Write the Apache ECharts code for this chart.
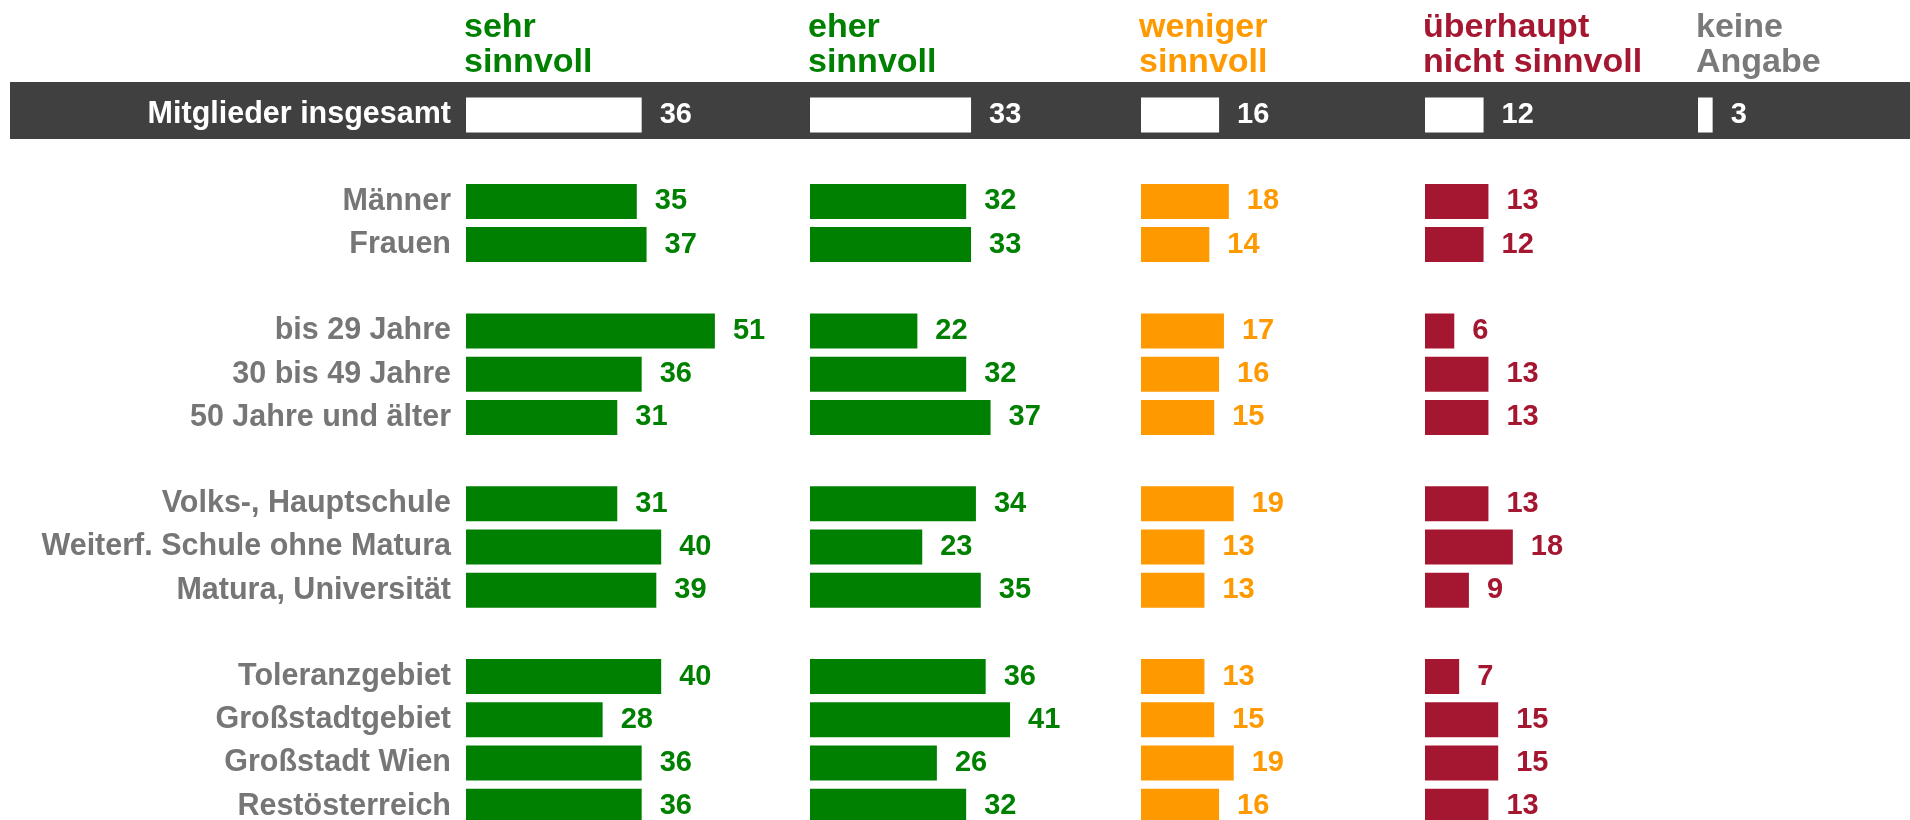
<!DOCTYPE html>
<html>
<head>
<meta charset="utf-8">
<script src="https://cdn.jsdelivr.net/npm/echarts@6/dist/echarts.min.js"></script>
<style>
  html, body { margin: 0; padding: 0; background: #fff; }
  #chart { width: 1910px; height: 820px; }
</style>
</head>
<body>
<div id="chart"></div>
<script>
// Zeilen (leere Zeilen trennen die Gruppen)
const categories = [
  'Mitglieder insgesamt', ' ',
  'Männer', 'Frauen', '  ',
  'bis 29 Jahre', '30 bis 49 Jahre', '50 Jahre und älter', '   ',
  'Volks-, Hauptschule', 'Weiterf. Schule ohne Matura', 'Matura, Universität', '    ',
  'Toleranzgebiet', 'Großstadtgebiet', 'Großstadt Wien', 'Restösterreich'
];
const sehrSinnvoll = [36, null, 35, 37, null, 51, 36, 31, null, 31, 40, 39, null, 40, 28, 36, 36];
const eherSinnvoll = [33, null, 32, 33, null, 22, 32, 37, null, 34, 23, 35, null, 36, 41, 26, 32];
const wenigerSinnvoll = [16, null, 18, 14, null, 17, 16, 15, null, 19, 13, 13, null, 13, 15, 19, 16];
const nichtSinnvoll = [12, null, 13, 12, null, 6, 13, 13, null, 13, 18, 9, null, 7, 15, 15, 13];
const keineAngabe = [3, null, null, null, null, null, null, null, null, null, null, null, null, null, null, null, null];
const headers = ['sehr\nsinnvoll', 'eher\nsinnvoll', 'weniger\nsinnvoll', 'überhaupt\nnicht sinnvoll', 'keine\nAngabe'];

const FONT = '"Liberation Sans", Arial, sans-serif';
const colors = ['#008000', '#008000', '#FF9900', '#A51731', '#7a7a7a'];
const colStart = [466, 810, 1141, 1425, 1698];
const columns = [sehrSinnvoll, eherSinnvoll, wenigerSinnvoll, nichtSinnvoll, keineAngabe];

const rowH = 43.2;
const gridTop = 115 - rowH / 2;
const AXIS_MAX = 60;
const pxPerUnit = 4.88;

const chart = echarts.init(document.getElementById('chart'));

const grids = [], xAxes = [], yAxes = [], series = [];
columns.forEach(function (vals, i) {
  grids.push({
    left: colStart[i],
    top: gridTop,
    width: AXIS_MAX * pxPerUnit,
    height: rowH * categories.length,
    outerBoundsMode: 'none',
    containLabel: false
  });
  xAxes.push({
    gridIndex: i, type: 'value', min: 0, max: AXIS_MAX,
    show: false, splitLine: { show: false }
  });
  yAxes.push({
    gridIndex: i, type: 'category', inverse: true,
    data: categories.map(function (c, k) {
      return k === 0 ? { value: c, textStyle: { color: '#ffffff' } } : c;
    }),
    axisLine: { show: false }, axisTick: { show: false },
    axisLabel: {
      show: i === 0, margin: 15, fontSize: 30.5, fontWeight: 'bold',
      fontFamily: FONT, color: '#767676'
    }
  });
  series.push({
    type: 'bar',
    xAxisIndex: i, yAxisIndex: i,
    barWidth: 35,
    clip: false,
    itemStyle: { color: colors[i] },
    label: {
      show: true, position: 'right', distance: 18,
      fontSize: 29, fontWeight: 'bold', fontFamily: FONT, color: colors[i]
    },
    data: vals.map(function (v, k) {
      if (k === 0) {
        return { value: v, itemStyle: { color: '#ffffff' }, label: { color: '#ffffff' } };
      }
      return v;
    })
  });
});

const graphics = [{
  type: 'rect', z: -1,
  shape: { x: 10, y: 82, width: 1900, height: 57 },
  style: { fill: '#404040' }
}];
headers.forEach(function (h, i) {
  graphics.push({
    type: 'text',
    x: colStart[i] - 2, y: 10,
    style: {
      text: h, fill: colors[i], font: 'bold 34px ' + FONT,
      lineHeight: 35, verticalAlign: 'top', align: 'left'
    }
  });
});

chart.setOption({
  animation: false,
  backgroundColor: '#ffffff',
  grid: grids,
  xAxis: xAxes,
  yAxis: yAxes,
  graphic: graphics,
  series: series
});
</script>
</body>
</html>
